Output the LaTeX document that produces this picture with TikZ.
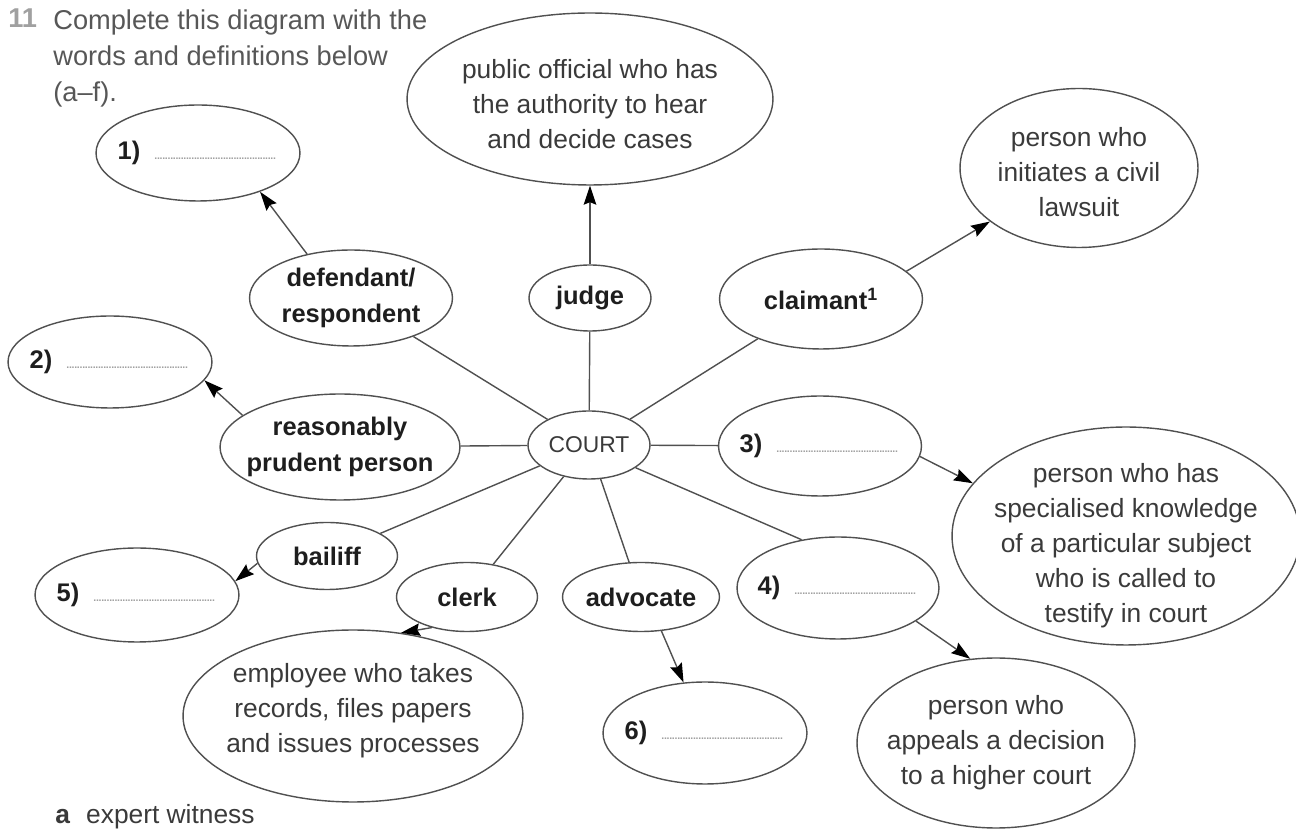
\documentclass[tikz,border=0pt]{standalone}
\usepackage{fontspec}
\setmainfont{Liberation Sans}
\usetikzlibrary{arrows.meta,shapes.geometric}

\definecolor{inkgrey}{HTML}{3A3A3A}
\definecolor{termink}{HTML}{1E1E1E}
\definecolor{linegrey}{HTML}{505050}
\definecolor{numgrey}{HTML}{A0A0A0}

% numbered gap with a dotted answer line
\newcommand{\answergap}[1]{\textbf{#1)}\hspace{0.28cm}{\color{numgrey}\fontsize{6}{6}\selectfont\leaders\hbox to 1.5pt{\hss.\hss}\hskip 2.48cm}}

\begin{document}
\begin{tikzpicture}[x=0.02cm, y=-0.02cm,
  bubble/.style={ellipse, draw=linegrey, line width=0.8pt, inner sep=0pt},
  deftext/.style={align=center, inner sep=0pt, text=inkgrey, font=\fontsize{15}{19.9}\selectfont},
  termtext/.style={align=center, inner sep=0pt, text=termink, font=\fontsize{14.5}{20.5}\selectfont\bfseries},
  link/.style={draw=linegrey, line width=0.8pt},
  pointer/.style={link, -{Stealth[length=0.38cm, width=0.25cm, inset=0.05cm, color=black]}}
]
  \useasboundingbox (0,0) rectangle (1296,830);

  % task heading
  \node[anchor=base west, inner sep=0pt, text=numgrey, font=\fontsize{15.5}{20}\selectfont\bfseries] (tasknum) at (8,28) {11};
  \node[anchor=north west, align=left, inner sep=0pt, text=inkgrey!85, font=\fontsize{15.5}{20.5}\selectfont] (task) at (53,9) {Complete this diagram with the\\words and definitions below\\(a--f).};

  % centre
  \node[bubble, minimum width=2.44cm, minimum height=1.36cm] (court) at (589,445) {};
  \node[deftext, font=\fontsize{13}{16}\selectfont] (courttext) at (court) {COURT};

  % terms round the centre
  \node[bubble, minimum width=4.06cm, minimum height=1.92cm] (defendant) at (351,298) {};
  \node[termtext] (defendanttext) at (defendant) {defendant/\\respondent};
  \node[bubble, minimum width=2.44cm, minimum height=1.32cm] (judge) at (590,298) {};
  \node[termtext] (judgetext) at (judge) {judge};
  \node[bubble, minimum width=4.06cm, minimum height=2.0cm] (claimant) at (821,299) {};
  \node[termtext] (claimanttext) at (claimant) {claimant\textsuperscript{1}};
  \node[bubble, minimum width=4.8cm, minimum height=2.12cm] (prudent) at (340,447) {};
  \node[termtext] (prudenttext) at (prudent) {reasonably\\prudent person};
  \node[bubble, minimum width=2.82cm, minimum height=1.34cm] (bailiff) at (327,556) {};
  \node[termtext] (bailifftext) at (bailiff) {bailiff};
  \node[bubble, minimum width=2.82cm, minimum height=1.38cm] (clerk) at (467,597) {};
  \node[termtext] (clerktext) at (clerk) {clerk};
  \node[bubble, minimum width=3.14cm, minimum height=1.38cm] (advocate) at (641,597) {};
  \node[termtext] (advocatetext) at (advocate) {advocate};

  % gaps
  \node[bubble, minimum width=4.08cm, minimum height=1.92cm] (gap1) at (198,153) {};
  \node[termtext] (gap1text) at (gap1) {\answergap{1}};
  \node[bubble, minimum width=4.08cm, minimum height=1.84cm] (gap2) at (110,362) {};
  \node[termtext] (gap2text) at (gap2) {\answergap{2}};
  \node[bubble, minimum width=4.06cm, minimum height=2.0cm] (gap3) at (820,446) {};
  \node[termtext] (gap3text) at (gap3) {\answergap{3}};
  \node[bubble, minimum width=4.04cm, minimum height=2.04cm] (gap4) at (838,588) {};
  \node[termtext] (gap4text) at (gap4) {\answergap{4}};
  \node[bubble, minimum width=4.08cm, minimum height=1.88cm] (gap5) at (137,595) {};
  \node[termtext] (gap5text) at (gap5) {\answergap{5}};
  \node[bubble, minimum width=4.08cm, minimum height=2.04cm] (gap6) at (705,733) {};
  \node[termtext] (gap6text) at (gap6) {\answergap{6}};

  % definitions
  \node[bubble, minimum width=7.32cm, minimum height=3.44cm] (official) at (590,99) {};
  \node[deftext] (officialtext) at ([yshift=-0.1cm]official.center) {public official who has\\the authority to hear\\and decide cases};
  \node[bubble, minimum width=4.76cm, minimum height=3.18cm] (lawsuit) at (1079,168) {};
  \node[deftext] (lawsuittext) at ([yshift=-0.09cm]lawsuit.center) {person who\\initiates a civil\\lawsuit};
  \node[bubble, minimum width=6.96cm, minimum height=4.36cm] (expert) at (1126,536) {};
  \node[deftext] (experttext) at ([yshift=-0.19cm]expert.center) {person who has\\specialised knowledge\\of a particular subject\\who is called to\\testify in court};
  \node[bubble, minimum width=6.8cm, minimum height=3.44cm] (employee) at (353,716) {};
  \node[deftext] (employeetext) at ([yshift=0.1cm]employee.center) {employee who takes\\records, files papers\\and issues processes};
  \node[bubble, minimum width=5.56cm, minimum height=3.4cm] (appeals) at (996,743) {};
  \node[deftext] (appealstext) at (appeals) {person who\\appeals a decision\\to a higher court};

  % list below
  \node[anchor=base west, inner sep=0pt, text=inkgrey, font=\fontsize{15}{19.9}\selectfont] (itema) at (55,824) {\textbf{a}\hspace{0.32cm}expert witness};

  % spokes
  \draw[link] (court) -- (defendant);
  \draw[link] (court) -- (judge);
  \draw[link] (court) -- (claimant);
  \draw[link] (court) -- (prudent);
  \draw[link] (court) -- (gap3);
  \draw[link] (court) -- (bailiff);
  \draw[link] (court) -- (clerk);
  \draw[link] (court) -- (advocate);
  \draw[link] (court.-26) -- (gap4.127);

  % arrows out to meanings
  \draw[pointer] (defendant.135) -- (gap1.-32);
  \draw[pointer] (judge) -- (official);
  \draw[pointer] (claimant.18) -- (lawsuit.211);
  \draw[pointer] (prudent.162) -- (gap2.-11);
  \draw[pointer] (gap3.-6) -- (expert.161);
  \draw[pointer] (bailiff.186) -- (gap5.8);
  \draw[pointer] (clerk.221) -- (employee.60);
  \draw[pointer] (advocate.-59) -- (gap6.113);
  \draw[pointer] (gap4.-23) -- (appeals.107);
\end{tikzpicture}
\end{document}
